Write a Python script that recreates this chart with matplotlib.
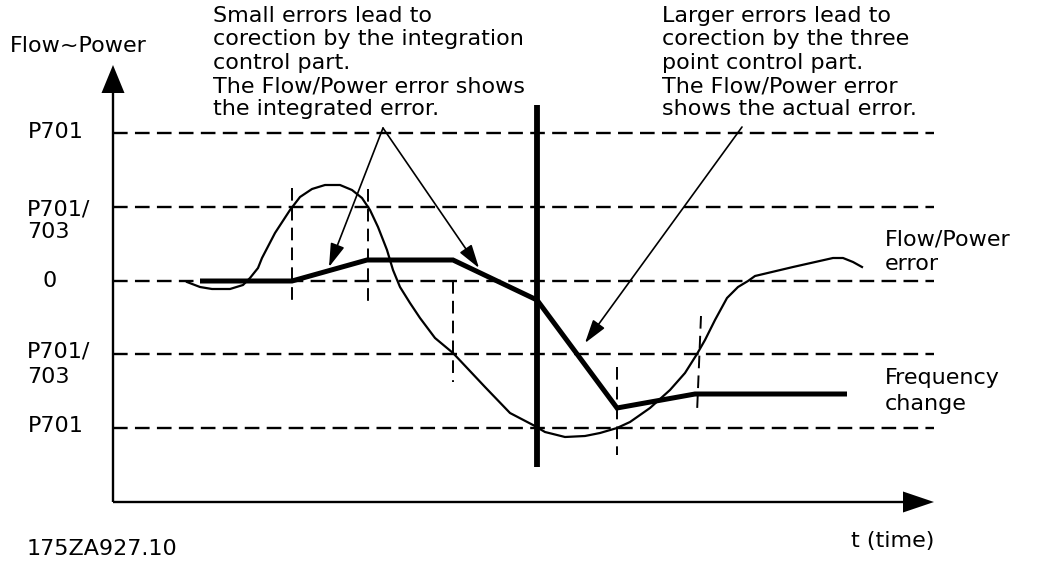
import matplotlib
matplotlib.use("Agg")
import matplotlib.pyplot as plt

# ---------------- data (pixel-space of the 1045x561 drawing) ----------------
# horizontal reference levels (rows of dashed lines), top to bottom
level_rows = [133, 207, 281, 354, 428]
level_label_lines = [["P701"], ["P701/", "703"], ["0"], ["P701/", "703"], ["P701"]]
level_label_x = [28, 27, 42, 27, 28]
level_label_baselines = [[138], [215, 238], [287], [357, 383], [432]]

# Flow/Power error curve (thin)
err_t = [187, 200, 212, 230, 243, 250, 258, 262, 275, 290, 300, 312, 325, 340,
         352, 362, 370, 378, 387, 393, 400, 410, 420, 435, 453, 485, 510, 533,
         545, 565, 585, 600, 617, 630, 650, 670, 685, 697, 705, 715, 727, 738,
         748, 755, 793, 833, 843, 853, 862]
err_v = [282, 287, 289, 289, 285, 278, 268, 258, 233, 210, 197, 189, 185, 185,
         190, 198, 210, 227, 250, 270, 287, 303, 318, 338, 353, 387, 413, 425,
         432, 437, 436, 433, 428, 422, 408, 390, 373, 354, 340, 320, 298, 287,
         281, 276, 267, 258, 258, 262, 267]

# Frequency change (thick polyline)
freq_t = [200, 292, 367, 453, 537, 617, 695, 847]
freq_v = [281, 281, 260, 260, 300, 408, 394, 394]

# short vertical dashed markers: (x_top, y_top, x_bottom, y_bottom)
marker_lines = [(292, 188, 292, 307), (368, 189, 368, 307), (453, 281, 453, 382),
                (617, 367, 617, 455), (701, 316, 697, 413)]

# thick vertical separator
sep_x, sep_top, sep_bottom = 537, 105, 467

# axes geometry
origin_x, origin_y = 113, 502
yaxis_tip, xaxis_tip = 65, 934
level_right = 934

# annotation texts
left_note = ["Small errors lead to", "corection by the integration",
             "control part.", "The Flow/Power error shows",
             "the integrated error."]
right_note = ["Larger errors lead to", "corection by the three",
              "point control part.", "The Flow/Power error",
              "shows the actual error."]
note_baselines = [22, 45.3, 68.6, 92, 115.3]
left_note_x, right_note_x = 213, 662

# annotation arrows: (start, tip)
note_arrows = [((383, 128), (329, 267)), ((383, 128), (479, 268)),
               ((742, 127), (585, 343))]

FS = 16
FONT = "DejaVu Sans"

# ---------------- drawing ----------------
fig = plt.figure(figsize=(10.45, 5.61), dpi=100)
ax = fig.add_axes([0, 0, 1, 1])
ax.set_xlim(0, 1045)
ax.set_ylim(561, 0)
ax.axis("off")

# dashed horizontal levels
for y in level_rows:
    ax.plot([origin_x, level_right], [y, y], color="black", lw=1.7,
            linestyle=(0, (6.2, 3.1)), dash_capstyle="butt")

# level labels
for lines, x, bases in zip(level_label_lines, level_label_x, level_label_baselines):
    for txt, b in zip(lines, bases):
        ax.text(x, b, txt, fontsize=FS, family=FONT, ha="left", va="baseline")

# vertical dashed markers
for (x0, y0, x1, y1) in marker_lines:
    ax.plot([x0, x1], [y0, y1], color="black", lw=1.4,
            linestyle=(0, (6.5, 3.7)), dash_capstyle="butt")

# axes with arrowheads
ax.plot([origin_x, origin_x], [origin_y, yaxis_tip + 25], color="black", lw=1.7,
        solid_capstyle="butt")
ax.plot([origin_x, xaxis_tip - 28], [origin_y, origin_y], color="black", lw=1.7,
        solid_capstyle="butt")
ax.fill([origin_x, origin_x - 11.5, origin_x + 11.5],
        [yaxis_tip, yaxis_tip + 28, yaxis_tip + 28], color="black", lw=0)
ax.fill([xaxis_tip, xaxis_tip - 31, xaxis_tip - 31],
        [origin_y, origin_y - 10.5, origin_y + 10.5], color="black", lw=0)

# curves
ax.plot(err_t, err_v, color="black", lw=1.6, solid_joinstyle="round")
ax.plot(freq_t, freq_v, color="black", lw=3.6, solid_joinstyle="miter",
        solid_capstyle="butt")
ax.plot([sep_x, sep_x], [sep_top, sep_bottom], color="black", lw=4.2,
        solid_capstyle="butt")

# annotation arrows
for start, tip in note_arrows:
    ax.annotate("", xy=tip, xytext=start,
                arrowprops=dict(arrowstyle="-|>,head_length=0.72,head_width=0.22",
                                mutation_scale=20, lw=1.2, color="black",
                                shrinkA=0, shrinkB=0))

# notes
for txt, b in zip(left_note, note_baselines):
    ax.text(left_note_x, b, txt, fontsize=FS, family=FONT, ha="left", va="baseline")
for txt, b in zip(right_note, note_baselines):
    ax.text(right_note_x, b, txt, fontsize=FS, family=FONT, ha="left", va="baseline")

# other labels
ax.text(10, 52, "Flow~Power", fontsize=FS, family=FONT, ha="left", va="baseline")
ax.text(885, 245, "Flow/Power", fontsize=FS, family=FONT, ha="left", va="baseline")
ax.text(885, 270, "error", fontsize=FS, family=FONT, ha="left", va="baseline")
ax.text(885, 384, "Frequency", fontsize=FS, family=FONT, ha="left", va="baseline")
ax.text(885, 410, "change", fontsize=FS, family=FONT, ha="left", va="baseline")
ax.text(934, 547, "t (time)", fontsize=FS, family=FONT, ha="right", va="baseline")
ax.text(27, 555, "175ZA927.10", fontsize=FS, family=FONT, ha="left", va="baseline")

fig.savefig("out.png", dpi=100, facecolor="white")
